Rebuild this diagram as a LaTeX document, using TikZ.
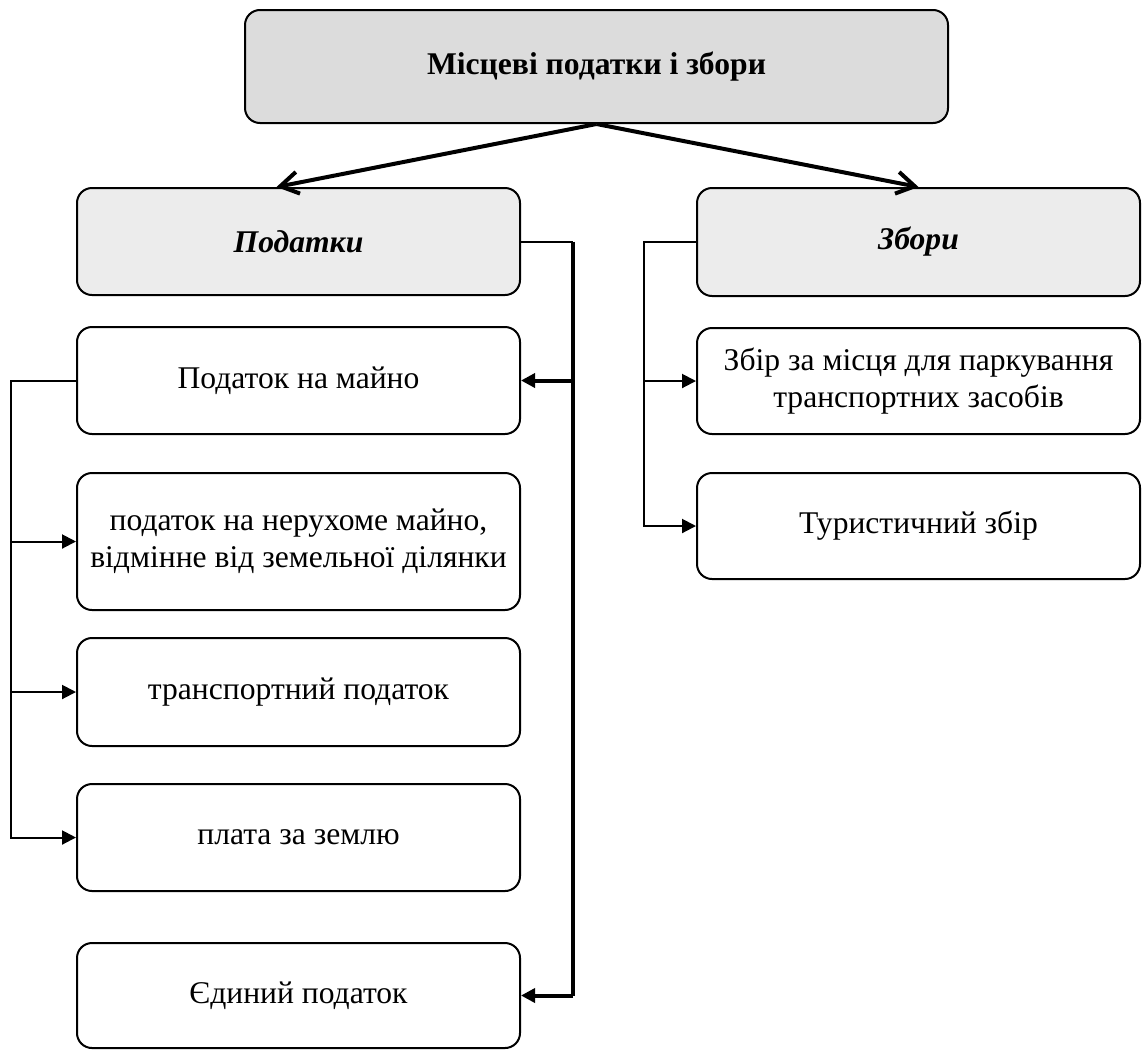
\documentclass[tikz,border=0pt]{standalone}
\usepackage{fontspec}
\setmainfont{Liberation Serif}
\usetikzlibrary{arrows.meta}
\definecolor{topgrau}{RGB}{220,220,220}
\definecolor{subgrau}{RGB}{236,236,236}
\begin{document}
\begin{tikzpicture}[x=0.5pt,y=-0.5pt,>={Triangle[length=7pt,width=7pt]},
	kasten/.style={draw,line width=1pt,rounded corners=7.5pt,
		minimum width=221.5pt,minimum height=53.5pt,align=center,
		font=\fontsize{15.8}{18.6}\selectfont},
	oben/.style={kasten,fill=topgrau,font=\fontsize{15.8}{18.6}\selectfont\bfseries},
	gruppe/.style={kasten,fill=subgrau,font=\fontsize{15.8}{18.6}\selectfont\bfseries\itshape},
	dick/.style={line width=2pt},
	duenn/.style={line width=1pt}]
\useasboundingbox (0,0) rectangle (1143,1050);
\node[oben,minimum width=351.5pt,minimum height=56.5pt] (steuern) at (596.5,66.5) {Місцеві податки і збори};
\node[gruppe] (podatky) at (298.5,241.5) {Податки};
\node[gruppe,minimum height=54pt] (zbory) at (918.5,242) {Збори};
\node[kasten] (majno) at (298.5,380.5) {Податок на майно};
\node[kasten,minimum height=68.5pt] (neruh) at (298.5,541.5) {податок на нерухоме майно,\\відмінне від земельної ділянки};
\node[kasten,minimum height=54pt] (transp) at (298.5,692) {транспортний податок};
\node[kasten] (plata) at (298.5,837.5) {плата за землю};
\node[kasten,minimum height=52.5pt] (jedyn) at (298.5,995.5) {Єдиний податок};
\node[kasten,minimum height=53pt] (parken) at (918.5,381) {Збір за місця для паркування\\транспортних засобів};
\node[kasten,minimum height=53pt] (tour) at (918.5,526) {Туристичний збір};
\draw[dick,-{Straight Barb[length=9pt,width=11pt]}] (steuern.south) -- ([xshift=-11pt]podatky.north);
\draw[dick,-{Straight Barb[length=9pt,width=11pt]}] (steuern.south) -- (zbory.north);
\draw[duenn] (podatky.east) -- ++(52,0) coordinate (knick);
\draw[dick] (knick) -- (knick |- jedyn.east);
\draw[dick,->] (knick |- majno.east) -- (majno.east);
\draw[dick,->] (knick |- jedyn.east) -- (jedyn.east);
\draw[duenn,->] (majno.west) -- ++(-65,0) coordinate (links) |- (plata.west);
\draw[duenn,->] (links |- neruh.west) -- (neruh.west);
\draw[duenn,->] (links |- transp.west) -- (transp.west);
\draw[duenn,->] (zbory.west) -- ++(-52,0) coordinate (rechts) |- (tour.west);
\draw[duenn,->] (rechts |- parken.west) -- (parken.west);
\end{tikzpicture}
\end{document}
